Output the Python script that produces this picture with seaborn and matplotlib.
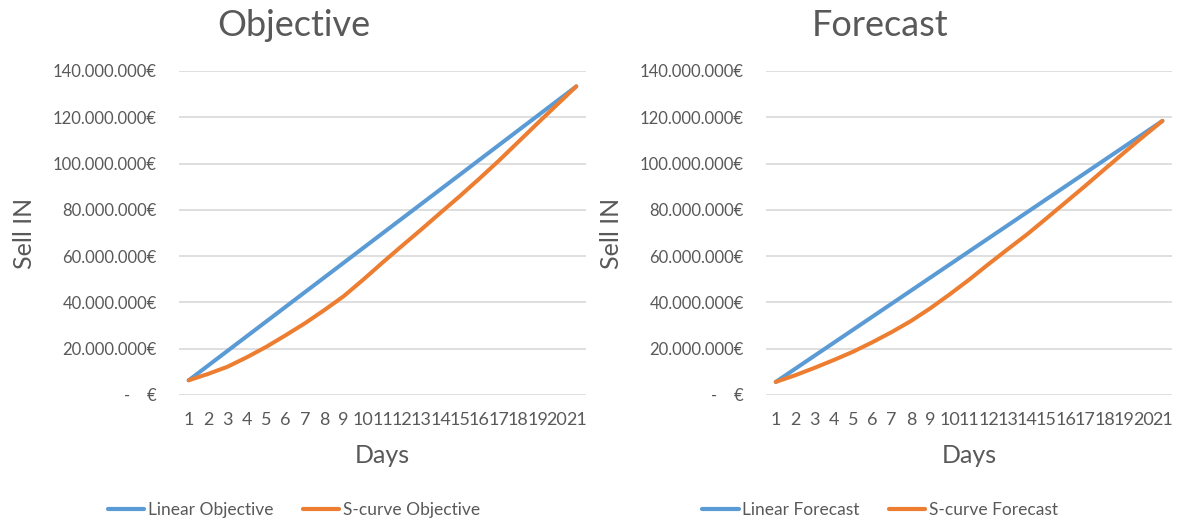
import matplotlib
matplotlib.use("Agg")
import matplotlib.pyplot as plt
import pandas as pd
import seaborn as sns

# Calendar days of the period
days = list(range(1, 22))

# Cumulative sell-in (euros, in millions)
linear_objective = [6.35, 12.70, 19.05, 25.40, 31.75, 38.10, 44.45, 50.80, 57.15, 63.50, 69.85,
                    76.20, 82.55, 88.90, 95.25, 101.60, 107.95, 114.30, 120.65, 127.00, 133.35]
scurve_objective = [6.35, 9.1, 12.2, 16.3, 20.8, 25.8, 31.0, 36.7, 42.7, 49.8, 57.2,
                    64.4, 71.5, 78.8, 86.0, 93.5, 101.2, 109.3, 117.4, 125.4, 133.35]
linear_forecast = [5.64, 11.28, 16.92, 22.56, 28.20, 33.84, 39.48, 45.12, 50.76, 56.40, 62.04,
                   67.68, 73.32, 78.96, 84.60, 90.24, 95.88, 101.52, 107.16, 112.80, 118.44]
scurve_forecast = [5.64, 8.5, 11.7, 15.1, 18.7, 22.8, 27.2, 32.0, 37.5, 43.5, 49.8,
                   56.5, 63.0, 69.4, 76.3, 83.3, 90.3, 97.5, 104.6, 111.6, 118.44]

y_ticks = [0, 20, 40, 60, 80, 100, 120, 140]

panels = [
    ("Objective", "Linear Objective", linear_objective, "S-curve Objective", scurve_objective),
    ("Forecast", "Linear Forecast", linear_forecast, "S-curve Forecast", scurve_forecast),
]

BLUE = "#5B9BD5"
ORANGE = "#ED7D31"
TEXT = "#595959"
GRID = "#D9D9D9"

sns.set_theme(style="white")
plt.rcParams["font.family"] = ["Lato", "DejaVu Sans"]
plt.rcParams["text.color"] = TEXT


def euro(v):
    if v == 0:
        return "-    €"
    return f"{v * 1_000_000:,.0f}".replace(",", ".") + "€"


fig = plt.figure(figsize=(11.8, 5.2), dpi=100)

# axes rectangles [left, bottom, width, height] and chart-area centres
rects = [[0.1517, 0.2404, 0.3449, 0.6231], [0.6492, 0.2404, 0.3441, 0.6231]]
centres = [294 / 1180, 880 / 1180]

for (title, lin_name, lin_vals, s_name, s_vals), rect, cx in zip(panels, rects, centres):
    ax = fig.add_axes(rect)
    df = pd.DataFrame({
        "Days": days * 2,
        "Sell IN": [v * 1_000_000 for v in lin_vals] + [v * 1_000_000 for v in s_vals],
        "series": [lin_name] * len(days) + [s_name] * len(days),
    })
    sns.lineplot(data=df, x="Days", y="Sell IN", hue="series",
                 palette={lin_name: BLUE, s_name: ORANGE},
                 linewidth=2.9, ax=ax, solid_capstyle="round")

    ax.set_xlim(0.5, 21.5)
    ax.set_ylim(0, 140_000_000)
    ax.set_xticks(days)
    ax.set_xticklabels([str(d) for d in days])
    ax.set_yticks([t * 1_000_000 for t in y_ticks])
    ax.set_yticklabels([euro(t) for t in y_ticks])
    ax.tick_params(axis="both", length=0, labelcolor=TEXT)
    ax.tick_params(axis="x", pad=12, labelsize=13)
    ax.tick_params(axis="y", pad=16, labelsize=12)
    for s in ax.spines.values():
        s.set_visible(False)
    ax.yaxis.grid(True, color=GRID, linewidth=1.2)
    ax.xaxis.grid(False)
    ax.set_axisbelow(True)

    ax.set_xlabel("Days", fontsize=18, color=TEXT, labelpad=12)
    ax.set_ylabel("Sell IN", fontsize=18, color=TEXT)
    ax.yaxis.set_label_coords(-0.38, 0.5)
    ax.yaxis.label.set_va("center")

    fig.text(cx, 1 - 26 / 520, title, ha="center", va="center", fontsize=26, color=TEXT)

    sns.move_legend(ax, "center", bbox_to_anchor=(cx, 1 - 510 / 520),
                    bbox_transform=fig.transFigure, ncol=2, frameon=False, title=None,
                    fontsize=12.5, handlelength=2.1, handletextpad=0.2, columnspacing=1.7)
    leg = ax.get_legend()
    for h in leg.legend_handles:
        h.set_linewidth(3)
    for t in leg.get_texts():
        t.set_color(TEXT)

fig.savefig("out.png", dpi=100, facecolor="white")
